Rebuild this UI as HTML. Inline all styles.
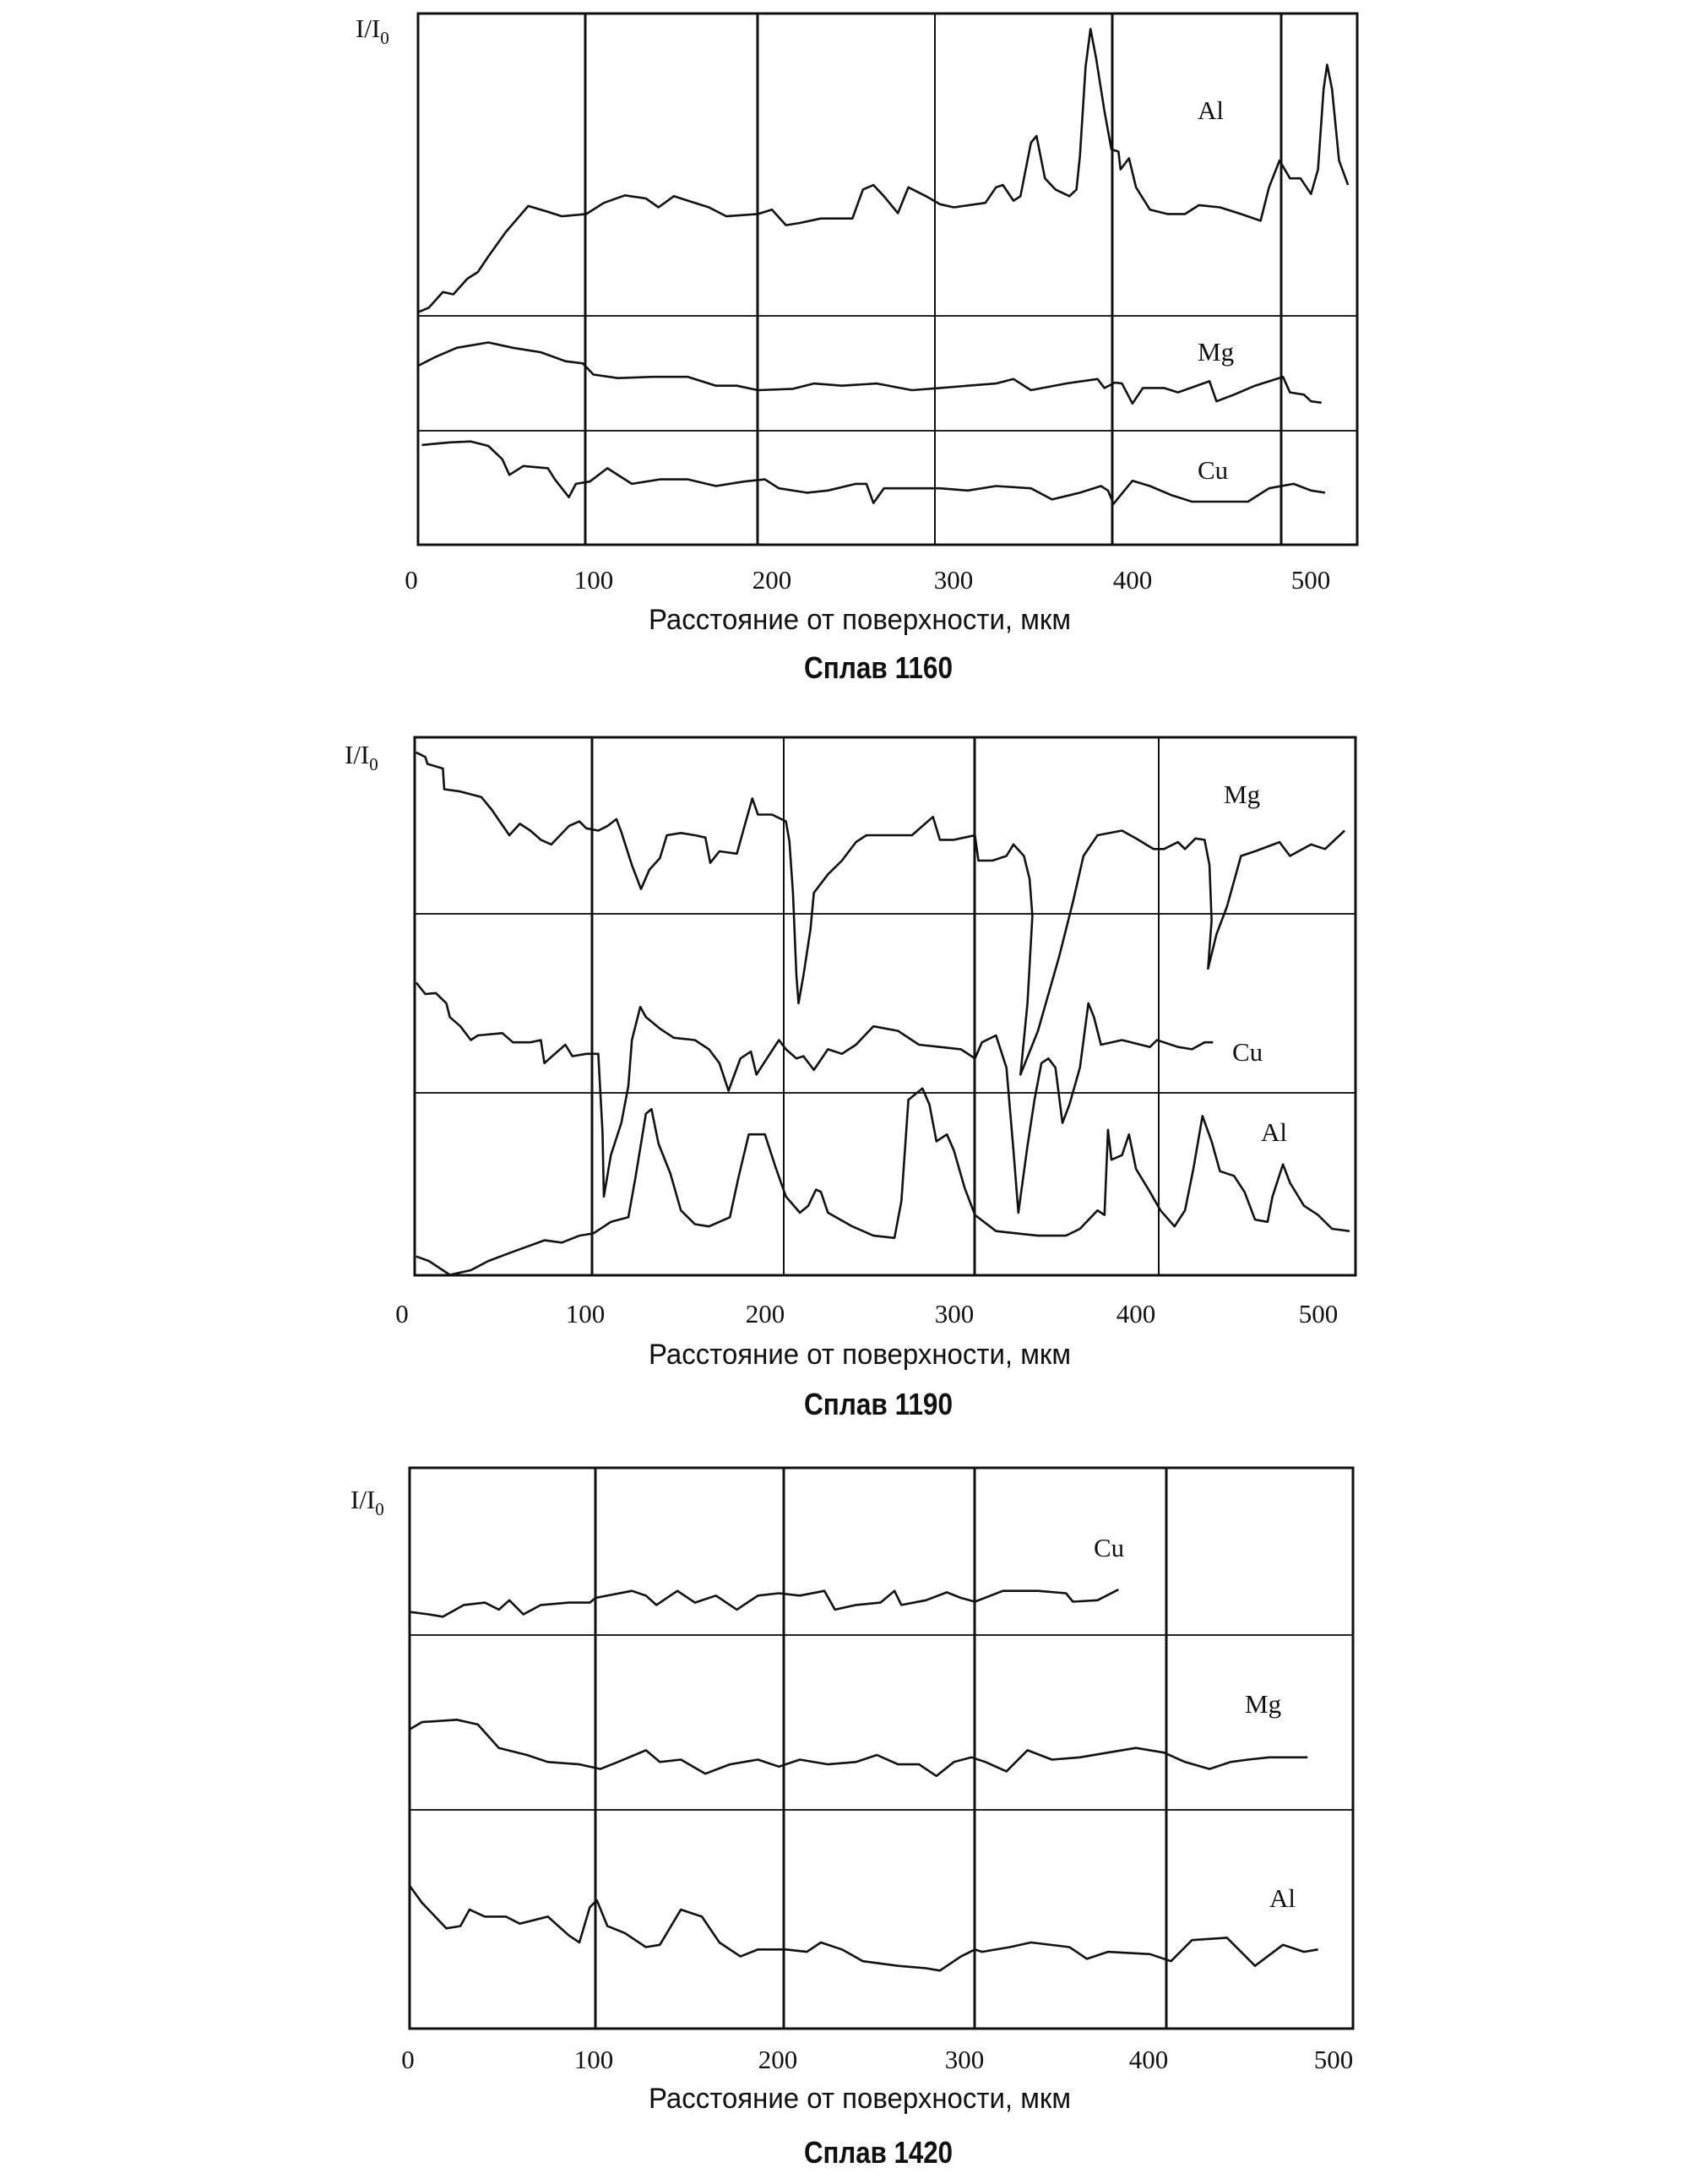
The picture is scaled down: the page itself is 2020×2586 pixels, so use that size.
<!DOCTYPE html>
<html><head><meta charset="utf-8"><style>
html,body{margin:0;padding:0;background:#fff}
svg{display:block}
.tk{font-family:"Liberation Serif",serif;font-size:31px;fill:#111}
.lb{font-family:"Liberation Serif",serif;font-size:31px;fill:#111}
.ti{font-family:"Liberation Sans",sans-serif;font-size:34px;fill:#111}
.sp{font-family:"Liberation Sans",sans-serif;font-size:36px;font-weight:bold;fill:#111}
</style></head><body>
<svg id="c" width="2020" height="2586" viewBox="0 0 2020 2586" xmlns="http://www.w3.org/2000/svg"></svg>
<script>
// digitized readings: x in reading units along depth, y in reading units of intensity (larger = lower)
const ticks = ["0","100","200","300","400","500"];
const al1160_x=[115,130,150,165,185,200,215,240,272,300,320,355,380,410,440,458,480,500,530,555,600,620,640,660,690,735,750,765,780,800,815,840,860,880,925,940,950,965,975,990,998,1010,1025,1045,1055,1060,1068,1075,1083,1095,1105,1115,1118,1130,1140,1160,1185,1210,1230,1260,1290,1318,1330,1345,1360,1375,1390,1400,1408,1413,1420,1430,1443];
const al1160_y=[700,690,655,660,625,610,575,520,462,475,485,480,455,438,445,465,440,450,465,485,480,470,505,500,490,490,425,415,440,478,420,440,458,465,455,420,415,450,440,320,305,400,425,440,425,350,150,65,130,250,335,340,380,355,420,470,480,480,460,465,480,495,420,360,400,400,435,380,200,145,200,360,415];
const mg1160_x=[115,140,170,215,250,290,325,350,365,400,450,500,540,570,600,650,680,720,770,820,860,900,940,965,990,1040,1085,1095,1110,1120,1135,1150,1180,1200,1245,1255,1280,1310,1350,1360,1380,1390,1405];
const mg1160_y=[820,800,780,768,780,790,810,815,840,848,845,845,865,865,875,872,860,865,860,875,870,865,860,850,875,860,850,870,858,860,905,870,870,880,855,900,885,865,845,880,885,900,903];
const cu1160_x=[120,160,190,215,235,245,265,300,310,330,340,360,385,405,420,460,500,540,580,610,630,670,700,740,755,765,780,820,860,900,940,990,1020,1060,1090,1100,1108,1135,1160,1190,1220,1260,1300,1330,1365,1390,1410];
const cu1160_y=[998,992,990,1000,1030,1065,1045,1050,1075,1115,1085,1080,1050,1070,1085,1075,1075,1090,1080,1075,1095,1105,1100,1085,1085,1128,1095,1095,1095,1100,1090,1095,1120,1105,1090,1100,1130,1078,1090,1110,1125,1125,1125,1095,1085,1100,1105];

const mg1190_x=[112,125,128,150,152,175,205,220,245,260,275,290,305,330,345,355,372,385,398,405,420,433,445,460,470,490,510,525,532,545,570,580,592,600,620,640,645,650,655,658,665,675,680,700,720,740,755,790,820,850,860,880,895,910,915,935,955,965,980,988,992,985,975,1000,1030,1050,1065,1085,1120,1140,1165,1180,1200,1210,1225,1238,1245,1248,1243,1255,1270,1290,1310,1345,1360,1390,1410,1438];
const mg1190_y=[75,85,100,110,155,160,172,200,255,230,245,265,275,235,225,240,245,235,220,248,320,372,330,305,255,250,255,260,315,290,295,240,175,210,210,225,268,380,560,620,560,460,380,340,310,270,255,255,255,215,265,265,260,255,310,310,300,275,300,350,430,620,775,680,520,400,300,255,245,262,285,285,270,285,262,265,320,440,545,470,410,300,290,270,300,275,285,245];
const cu1190_x=[112,125,140,155,160,175,190,200,235,250,275,290,295,310,325,335,355,372,378,380,390,405,415,420,432,440,460,480,510,530,545,558,575,590,598,615,630,640,655,665,680,700,720,740,765,800,830,860,890,910,920,940,955,965,972,985,995,1005,1015,1025,1035,1045,1060,1072,1080,1090,1120,1160,1170,1200,1220,1238,1250];
const cu1190_y=[575,600,598,620,650,670,700,690,685,705,705,700,750,730,710,735,730,730,900,1040,950,880,800,700,628,650,675,695,700,720,750,810,740,725,775,735,700,720,740,735,765,720,730,710,670,680,710,715,720,740,705,690,760,940,1075,930,830,750,740,760,880,840,760,620,650,710,700,715,700,715,720,705,705];
const al1190_x=[112,130,160,190,215,250,295,320,345,365,390,415,425,440,448,458,475,490,510,530,560,572,587,610,625,640,660,672,683,690,700,735,765,795,805,815,835,845,855,870,880,895,910,940,970,1000,1040,1060,1085,1095,1100,1105,1120,1130,1140,1160,1175,1195,1210,1222,1235,1248,1260,1280,1295,1310,1328,1335,1350,1360,1380,1400,1420,1445];
const al1190_y=[1170,1180,1210,1200,1180,1160,1135,1140,1125,1120,1095,1085,1000,860,850,925,990,1070,1100,1105,1085,1000,905,905,975,1040,1075,1060,1025,1030,1075,1105,1125,1130,1050,830,805,840,920,905,940,1020,1080,1115,1120,1125,1125,1110,1070,1080,895,960,950,905,980,1030,1070,1105,1070,980,865,920,985,995,1030,1090,1095,1040,970,1010,1060,1080,1110,1115];

const cu1420_x=[103,130,150,180,210,230,245,265,290,330,360,368,420,440,455,485,510,540,570,600,630,660,695,710,740,775,795,805,840,870,890,910,950,1000,1040,1050,1085,1115];
const cu1420_y=[340,345,350,325,320,335,315,345,325,320,320,310,295,305,325,295,320,305,335,305,300,305,295,335,325,320,295,325,315,298,310,318,295,295,300,318,315,292];
const mg1420_x=[103,120,170,200,230,270,300,345,375,400,440,460,490,525,560,600,630,660,700,740,770,800,830,855,880,905,925,955,985,1020,1060,1100,1140,1180,1210,1245,1275,1300,1330,1360,1385];
const mg1420_y=[590,575,570,580,630,645,660,665,675,660,635,660,655,685,665,655,670,655,665,660,645,665,665,690,660,650,660,680,635,655,650,640,630,640,660,675,660,655,650,650,650];
const al1420_x=[103,120,155,175,188,210,240,260,300,330,345,360,370,385,410,440,460,490,520,545,575,600,640,670,690,720,750,800,840,860,890,910,920,960,990,1045,1070,1100,1160,1190,1220,1270,1310,1350,1380,1400];
const al1420_y=[925,960,1015,1010,975,990,990,1005,990,1030,1045,970,955,1010,1025,1055,1050,975,990,1045,1075,1060,1060,1065,1045,1060,1085,1095,1100,1105,1075,1060,1065,1055,1045,1055,1080,1065,1070,1085,1040,1035,1095,1050,1065,1060];

const svg=document.getElementById('c');
const NS="http://www.w3.org/2000/svg";
function el(t,a,txt){const e=document.createElementNS(NS,t);for(const k in a)e.setAttribute(k,a[k]);if(txt!==undefined)e.textContent=txt;svg.appendChild(e);return e;}
function xs(v){return 400+v*0.829;}

const panels=[
 {name:'1160',y0:0,sy:0.528,box:[495,16,1607,645],hl:[374,510],vl:[[693,3],[897,3],[1107,2],[1317,3],[1517,3]],
  tx:[487,703,914,1129,1341,1552],ty:697,title:745,spl:803,io:[421,44],
  series:[['al',al1160_x,al1160_y,'Al',1418,141],['mg',mg1160_x,mg1160_y,'Mg',1418,427],['cu',cu1160_x,cu1160_y,'Cu',1418,567]]},
 {name:'1190',y0:850,sy:0.545,box:[491,873,1605,1510],hl:[1082,1294],vl:[[701,3],[928,2],[1154,3],[1372,2]],
  tx:[476,693,906,1130,1345,1561],ty:1566,title:1615,spl:1675,io:[408,904],
  series:[['mg',mg1190_x,mg1190_y,'Mg',1449,951],['cu',cu1190_x,cu1190_y,'Cu',1459,1256],['al',al1190_x,al1190_y,'Al',1493,1351]]},
 {name:'1420',y0:1720,sy:0.555,box:[485,1738,1602,2402],hl:[1936,2143],vl:[[705,3],[928,3],[1154,3],[1381,3]],
  tx:[483,703,921,1142,1360,1579],ty:2449,title:2496,spl:2561,io:[415,1786],
  series:[['cu',cu1420_x,cu1420_y,'Cu',1295,1843],['mg',mg1420_x,mg1420_y,'Mg',1474,2028],['al',al1420_x,al1420_y,'Al',1503,2258]]}
];

panels.forEach(p=>{
  const ys=v=>p.y0+v*p.sy;
  const b=p.box;
  p.hl.forEach((y,i)=>{const l=el('line',{x1:b[0],x2:b[2],y1:y,y2:y,stroke:'#222','stroke-width':2});
    
    });
  p.vl.forEach((v,i)=>{const l=el('line',{x1:v[0],x2:v[0],y1:b[1],y2:b[3],stroke:'#111','stroke-width':v[1]});
    
    });
  const r=el('rect',{x:b[0],y:b[1],width:b[2]-b[0],height:b[3]-b[1],fill:'none',stroke:'#111','stroke-width':3});
  
  
  p.series.forEach(s=>{
    const pts=s[1].map((x,i)=>xs(x).toFixed(1)+','+ys(s[2][i]).toFixed(1)).join(' ');
    const pl=el('polyline',{points:pts,fill:'none',stroke:'#111','stroke-width':2.6,'stroke-linejoin':'round'});
    
    
    const t=el('text',{x:s[4],y:s[5],class:'lb'},s[3]);
    
    
  });
  ticks.forEach((tk,i)=>{const t=el('text',{x:p.tx[i],y:p.ty,class:'tk','text-anchor':'middle'},tk);
    
    });
  const io=el('text',{x:p.io[0],y:p.io[1],class:'lb'});
  
  
  io.innerHTML='I/I<tspan dy="8" font-size="21">0</tspan>';
  const ti=el('text',{x:1018,y:p.title,class:'ti','text-anchor':'middle',textLength:500,lengthAdjust:'spacingAndGlyphs'},'Расстояние от поверхности, мкм');
  
  
  const sp=el('text',{x:1040,y:p.spl,class:'sp','text-anchor':'middle',textLength:176,lengthAdjust:'spacingAndGlyphs'},'Сплав '+p.name);
  
  
});
</script>
</body></html>
